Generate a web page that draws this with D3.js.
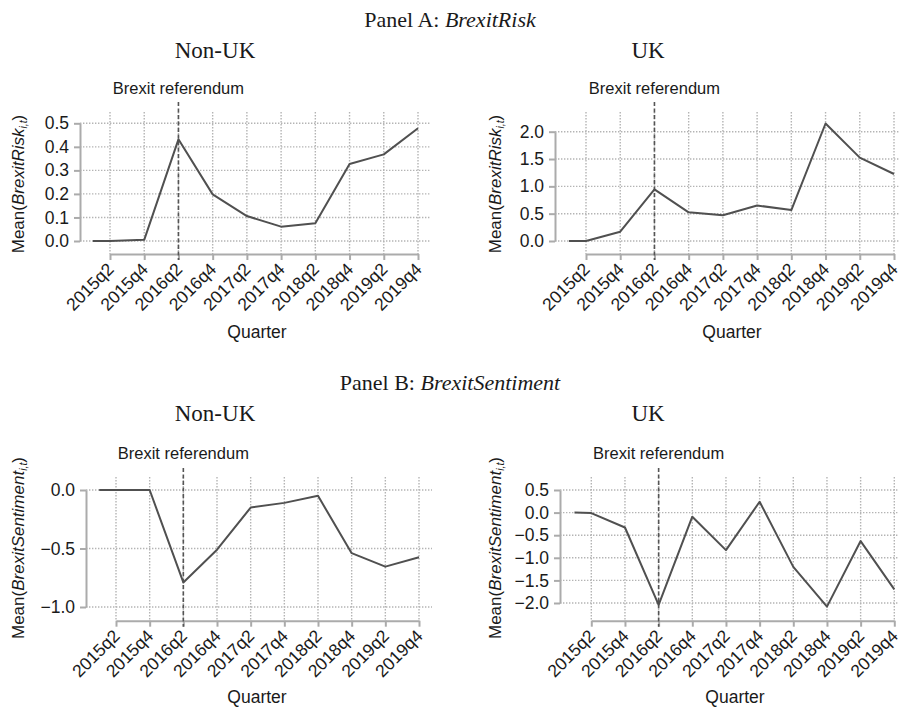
<!DOCTYPE html>
<html><head><meta charset="utf-8">
<script src="https://cdn.jsdelivr.net/npm/d3@7"></script>
<style>
body{margin:0;background:#fff}
text{font-family:"Liberation Sans",Arial,Helvetica,sans-serif;fill:#1a1a1a}
.serif{font-family:"Liberation Serif","Times New Roman",serif}
</style>
</head><body><svg id="c" width="901" height="708"></svg>
<script>
// ---- data ----
const quarters = ["2015q1","2015q2","2015q4","2016q2","2016q4","2017q2","2017q4","2018q2","2018q4","2019q2","2019q4"];
const tickLabels = ["2015q2","2015q4","2016q2","2016q4","2017q2","2017q4","2018q2","2018q4","2019q2","2019q4"];
const riskNonUK = [0.0, 0.0, 0.005, 0.432, 0.198, 0.106, 0.061, 0.075, 0.327, 0.368, 0.479];
const riskUK    = [0.0, 0.0, 0.17, 0.946, 0.525, 0.47, 0.65, 0.567, 2.15, 1.525, 1.226];
const sentNonUK = [0.0, 0.0, 0.0, -0.79, -0.51, -0.15, -0.11, -0.05, -0.54, -0.655, -0.575];
const sentUK    = [0.0, -0.01, -0.33, -2.04, -0.09, -0.83, 0.24, -1.2, -2.08, -0.63, -1.70];
const riskNonUKTicks = [0, 0.1, 0.2, 0.3, 0.4, 0.5];
const riskUKTicks = [0, 0.5, 1, 1.5, 2];
const sentNonUKTicks = [-1, -0.5, 0];
const sentUKTicks = [-2, -1.5, -1, -0.5, 0, 0.5];
const referendum = "2016q2";
const panelTitles = [["Panel A: ", "BrexitRisk"], ["Panel B: ", "BrexitSentiment"]];
const groupTitles = ["Non-UK", "UK"];

// ---- layout ----
const svg = d3.select("#c");
const parseQ = q => { const p = q.split("q"); return (+p[0] - 2015) * 4 + (+p[1]) - 2; };
const tickIdx = tickLabels.map(parseQ);

const panels = [
  {values: riskNonUK, ticks: riskNonUKTicks, measure: "BrexitRisk", ax: 80, top: 123.3, bottom: 241, xa: 110, xb: 418, axisY: 254, gridTop: 112, refTop: 102, refY: 94, ytX: 18, ytY: 184, qX: 257, qY: 338, gridRight: 430},
  {values: riskUK, ticks: riskUKTicks, measure: "BrexitRisk", ax: 555, top: 131.7, bottom: 241, xa: 586, xb: 894, axisY: 254, gridTop: 112, refTop: 102, refY: 94, ytX: 495, ytY: 184, qX: 732, qY: 338, gridRight: 899},
  {values: sentNonUK, ticks: sentNonUKTicks, measure: "BrexitSentiment", ax: 86, top: 490, bottom: 607, xa: 116, xb: 419, axisY: 620.7, gridTop: 477, refTop: 468, refY: 459, ytX: 18, ytY: 548, qX: 257, qY: 703, gridRight: 432},
  {values: sentUK, ticks: sentUKTicks, measure: "BrexitSentiment", ax: 560, top: 490, bottom: 603, xa: 591.3, xb: 894.3, axisY: 620.7, gridTop: 477, refTop: 468, refY: 459, ytX: 495, ytY: 548, qX: 735, qY: 703, gridRight: 899}
];

const AX = "#ababab", GRID = "#b4b4b4", LINE = "#505050";

panels.forEach(p => {
  const x = d3.scaleLinear().domain([0, 18]).range([p.xa, p.xb]);
  const y = d3.scaleLinear().domain(d3.extent(p.ticks)).range([p.bottom, p.top]);
  const g = svg.append("g");

  // grid
  g.selectAll(".hg").data(p.ticks).enter().append("line")
    .attr("x1", p.ax).attr("x2", p.gridRight).attr("y1", d => y(d)).attr("y2", d => y(d))
    .attr("stroke", GRID).attr("stroke-width", 1.4).attr("stroke-dasharray", "1.4,1.6");
  g.selectAll(".vg").data(tickIdx).enter().append("line")
    .attr("x1", d => x(d)).attr("x2", d => x(d)).attr("y1", p.gridTop).attr("y2", p.axisY)
    .attr("stroke", GRID).attr("stroke-width", 1.4).attr("stroke-dasharray", "1.4,1.6");

  // y axis
  const ya = g.append("g").attr("transform", `translate(${p.ax},0)`)
    .call(d3.axisLeft(y).tickValues(p.ticks).tickFormat(d3.format(".1f")).tickSize(6).tickPadding(5).tickSizeOuter(0));
  ya.select(".domain").attr("stroke", AX).attr("stroke-width", 2);
  ya.selectAll(".tick line").attr("stroke", AX).attr("stroke-width", 2);
  ya.selectAll(".tick text").attr("font-size", 17.5).attr("fill", "#1a1a1a")
    .style("font-family", '"Liberation Sans",Arial,sans-serif');

  // x axis
  const xa = g.append("g").attr("transform", `translate(0,${p.axisY})`)
    .call(d3.axisBottom(x).tickValues(tickIdx).tickFormat((d, i) => tickLabels[i]).tickSize(6).tickSizeOuter(0));
  xa.select(".domain").attr("stroke", AX).attr("stroke-width", 2);
  xa.selectAll(".tick line").attr("stroke", AX).attr("stroke-width", 2);
  xa.selectAll(".tick text").attr("font-size", 17.5).attr("fill", "#1a1a1a")
    .style("font-family", '"Liberation Sans",Arial,sans-serif')
    .attr("text-anchor", "end").attr("y", 0).attr("dy", "0.35em")
    .attr("transform", "translate(0,12) rotate(-45)");

  // referendum line
  const rx = x(parseQ(referendum));
  g.append("line").attr("x1", rx).attr("x2", rx).attr("y1", p.refTop).attr("y2", p.axisY + 6)
    .attr("stroke", "#555").attr("stroke-width", 1.6).attr("stroke-dasharray", "4,2.5");
  g.append("text").attr("x", rx).attr("y", p.refY).attr("text-anchor", "middle")
    .attr("font-size", 16.5).text("Brexit referendum");

  // data line
  g.append("path").datum(p.values)
    .attr("fill", "none").attr("stroke", LINE).attr("stroke-width", 2).attr("stroke-linejoin", "round")
    .attr("d", d3.line().x((d, i) => x(parseQ(quarters[i]))).y(d => y(d)));

  // y title
  const yt = g.append("text").attr("transform", `translate(${p.ytX},${p.ytY}) rotate(-90)`)
    .attr("text-anchor", "middle").attr("dy", "0.35em").attr("font-size", 17);
  yt.append("tspan").text("Mean(");
  yt.append("tspan").attr("font-style", "italic").text(p.measure);
  yt.append("tspan").attr("font-style", "italic").attr("font-size", 10.5).attr("dy", 3).text("i,t");
  yt.append("tspan").attr("dy", -3).text(")");

  // x title
  g.append("text").attr("x", p.qX).attr("y", p.qY).attr("text-anchor", "middle").attr("font-size", 17.5).text("Quarter");
});

// panel titles
[27, 390].forEach((yy, k) => {
  const t = svg.append("text").attr("class", "serif").attr("x", 450).attr("y", yy)
    .attr("text-anchor", "middle").attr("font-size", 22);
  t.append("tspan").text(panelTitles[k][0]);
  t.append("tspan").attr("font-style", "italic").text(panelTitles[k][1]);
  svg.append("text").attr("class", "serif").attr("x", 215).attr("y", yy + 31)
    .attr("text-anchor", "middle").attr("font-size", 23).text(groupTitles[0]);
  svg.append("text").attr("class", "serif").attr("x", 648).attr("y", yy + 31)
    .attr("text-anchor", "middle").attr("font-size", 23).text(groupTitles[1]);
});
</script>
</body></html>
